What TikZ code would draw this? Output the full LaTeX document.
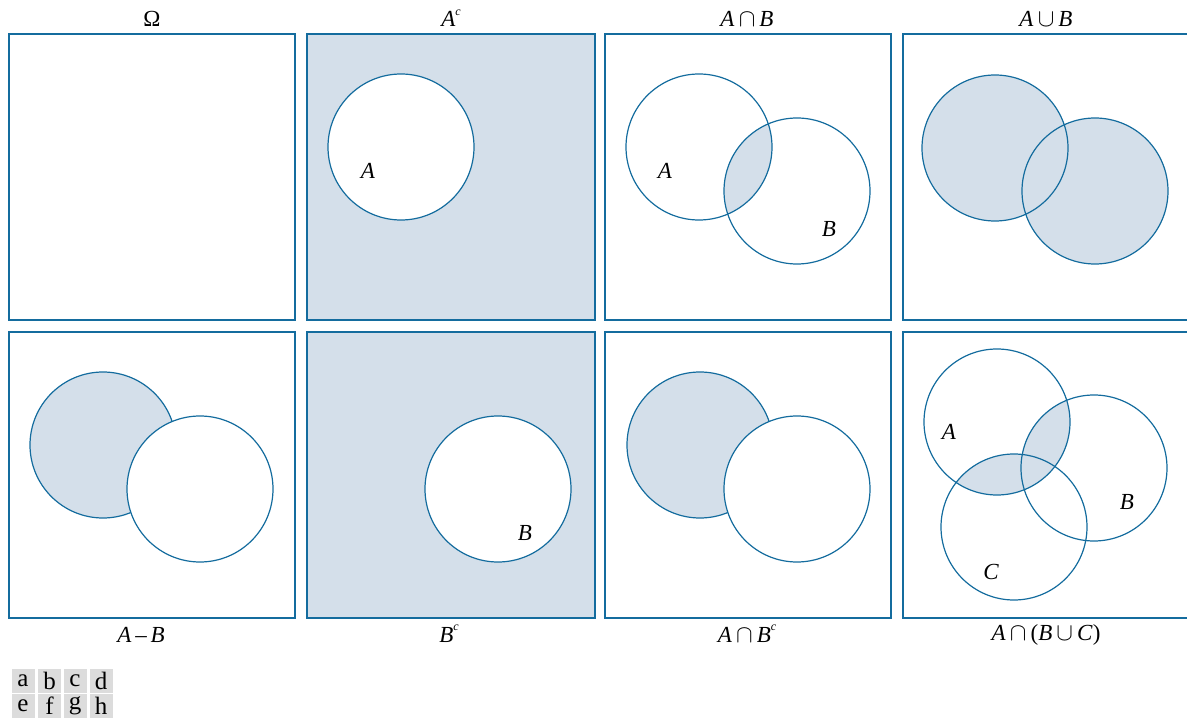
\documentclass[tikz,border=0pt]{standalone}
\usepackage{fontspec}
\setmainfont{Liberation Serif}
\begin{document}
\begin{tikzpicture}[x=1pt,y=-1pt,
  edge/.style={draw=vblue,line width=1.4pt},
  ring/.style={draw=vblue,line width=1.2pt},
  captxt/.style={font=\fontsize{23}{26}\selectfont,inner sep=0pt},
  lab/.style={font=\fontsize{23}{26}\selectfont\itshape,inner sep=0pt},
  cell/.style={fill=cellgray,minimum width=23pt,minimum height=24pt,inner sep=0pt,font=\fontsize{25}{26}\selectfont}]
\definecolor{vblue}{RGB}{20,108,158}
\definecolor{vfill}{RGB}{212,223,234}
\definecolor{cellgray}{RGB}{220,220,220}
\useasboundingbox (0,0) rectangle (1187,719);
\clip (0,0) rectangle (1187,719);
% ---------- panel a ----------
\draw[edge] (9,34) rectangle (295,320);
% ---------- panel b ----------
\fill[vfill] (307,34) rectangle (595,320);
\fill[white] (401,147) circle[radius=73pt];
\draw[ring] (401,147) circle[radius=73pt];
\draw[edge] (307,34) rectangle (595,320);
% ---------- panel c ----------
\begin{scope}
\clip (699,147) circle[radius=73pt];
\fill[vfill] (797,191) circle[radius=73pt];
\end{scope}
\draw[ring] (699,147) circle[radius=73pt];
\draw[ring] (797,191) circle[radius=73pt];
\draw[edge] (605,34) rectangle (891,320);
% ---------- panel d ----------
\fill[vfill] (995,148) circle[radius=73pt];
\fill[vfill] (1095,191) circle[radius=73pt];
\draw[ring] (995,148) circle[radius=73pt];
\draw[ring] (1095,191) circle[radius=73pt];
\draw[edge] (903,34) rectangle (1189,320);
% ---------- panel e ----------
\fill[vfill] (103,445) circle[radius=73pt];
\draw[ring] (103,445) circle[radius=73pt];
\fill[white] (200,489) circle[radius=73pt];
\draw[ring] (200,489) circle[radius=73pt];
\draw[edge] (9,332) rectangle (295,618);
% ---------- panel f ----------
\fill[vfill] (307,332) rectangle (595,618);
\fill[white] (498,489) circle[radius=73pt];
\draw[ring] (498,489) circle[radius=73pt];
\draw[edge] (307,332) rectangle (595,618);
% ---------- panel g ----------
\fill[vfill] (700,445) circle[radius=73pt];
\draw[ring] (700,445) circle[radius=73pt];
\fill[white] (797,489) circle[radius=73pt];
\draw[ring] (797,489) circle[radius=73pt];
\draw[edge] (605,332) rectangle (891,618);
% ---------- panel h ----------
\begin{scope}
\clip (997,422) circle[radius=73pt];
\fill[vfill] (1094,468) circle[radius=73pt];
\fill[vfill] (1014,527) circle[radius=73pt];
\end{scope}
\draw[ring] (997,422) circle[radius=73pt];
\draw[ring] (1094,468) circle[radius=73pt];
\draw[ring] (1014,527) circle[radius=73pt];
\draw[edge] (903,332) rectangle (1189,618);
% ---------- labels inside ----------
\node[lab] (lbA) at (368,171) {A};
\node[lab] (lcA) at (665,171) {A};
\node[lab] (lcB) at (829,229) {B};
\node[lab] (lfB) at (525,533) {B};
\node[lab] (lhA) at (949,432) {A};
\node[lab] (lhB) at (1127,502) {B};
\node[lab] (lhC) at (991,572) {C};
% ---------- captions ----------
\node[captxt] (ca) at (152,19) {Ω};
\node[captxt] (cb) at (451,18) {\textit{A}\raisebox{1.1ex}{\fontsize{12}{13}\selectfont\textit{c}}};
\node[captxt] (cc) at (747,19) {\textit{A}$\,\cap\,$\textit{B}};
\node[captxt] (cd) at (1046,19) {\textit{A}$\,\cup\,$\textit{B}};
\node[captxt] (ce) at (141,635) {\textit{A}\,–\,\textit{B}};
\node[captxt] (cf) at (449,634) {\textit{B}\raisebox{1.1ex}{\fontsize{12}{13}\selectfont\textit{c}}};
\node[captxt] (cg) at (747,634) {\textit{A}$\,\cap\,$\textit{B}\raisebox{1.1ex}{\fontsize{12}{13}\selectfont\textit{c}}};
\node[captxt] (ch) at (1046,635) {\textit{A}$\,\cap\,$(\textit{B}$\,\cup\,$\textit{C})};
% ---------- legend ----------
\node[cell] (ka) at (23,680.5) {a};
\node[cell] (kb) at (49.5,680.5) {b};
\node[cell] (kc) at (75,680.5) {c};
\node[cell] (kd) at (101,680.5) {d};
\node[cell] (ke) at (23,706) {e};
\node[cell] (kf) at (49.5,706) {f};
\node[cell] (kg) at (75,706) {g};
\node[cell] (kh) at (101,706) {h};
\end{tikzpicture}
\end{document}
